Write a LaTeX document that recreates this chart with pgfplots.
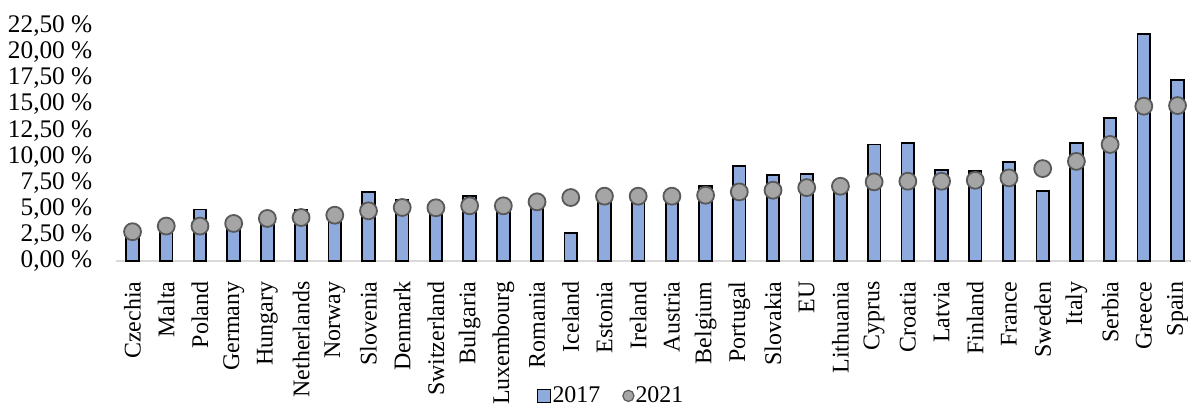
\documentclass[border=0pt]{standalone}
\usepackage{pgfplots}
\pgfplotsset{compat=1.18}
\usepackage{fontspec}
\setmainfont{Liberation Serif}
\definecolor{cbar}{HTML}{8FAADC}
\definecolor{cdot}{HTML}{A5A5A5}
\definecolor{cdotedge}{HTML}{595959}
\pgfplotsset{
  sqlegend/.style={legend image code/.code={\draw[##1, line width=0.6bp] (0bp,-3.2bp) rectangle (6.5bp,3.2bp);}},
  dotlegend/.style={legend image code/.code={\draw[mark=*, mark size=2.8bp, mark options={fill=cdot, draw=cdotedge, line width=0.6bp}] plot coordinates {(2.8bp,0bp)};}}
}
\begin{document}
\fontsize{12bp}{14bp}\selectfont
\begin{tikzpicture}
\begin{axis}[
  name=ax,
  scale only axis,
  width=539.1bp, height=131bp,
  xmin=-0.5, xmax=31.4, ymin=0, ymax=25,
  xtick={0,...,31},
  xticklabels={Czechia,Malta,Poland,Germany,Hungary,Netherlands,Norway,Slovenia,Denmark,Switzerland,Bulgaria,Luxembourg,Romania,Iceland,Estonia,Ireland,Austria,Belgium,Portugal,Slovakia,EU,Lithuania,Cyprus,Croatia,Latvia,Finland,France,Sweden,Italy,Serbia,Greece,Spain},
  ytick={0,2.5,5,7.5,10,12.5,15,17.5,20,22.5},
  yticklabels={{0,00 \%},{2,50 \%},{5,00 \%},{7,50 \%},{10,00 \%},{12,50 \%},{15,00 \%},{17,50 \%},{20,00 \%},{22,50 \%}},
  axis x line*=bottom, axis y line*=left,
  x axis line style={-, draw=gray!30, line width=1bp},
  y axis line style={draw=none},
  major tick length=0pt,
  tick style={draw=none},
  xticklabel style={rotate=90, anchor=east, inner sep=0pt},
  xticklabel shift=10bp,
  yticklabel style={anchor=east, inner sep=0pt, font=\fontsize{12.7bp}{14bp}\selectfont},
  yticklabel shift=11.5bp,
  legend style={at={(0.4605,-0.515)}, anchor=center, draw=none, fill=none,
    legend columns=2, inner sep=0pt, nodes={inner sep=0.75bp},
    /tikz/every even column/.append style={column sep=10.5bp}},
]
\addplot[ybar, bar width=6.3bp, fill=cbar, draw=black, line width=0.9bp, sqlegend]
coordinates {
(0,2.7) (1,3.3) (2,4.96) (3,3.5) (4,4.0) (5,4.96) (6,4.3) (7,6.64)
(8,5.84) (9,5.0) (10,6.26) (11,5.2) (12,5.3) (13,2.73) (14,6.0) (15,6.0)
(16,6.1) (17,7.18) (18,9.09) (19,8.23) (20,8.33) (21,7.0) (22,11.18) (23,11.31)
(24,8.77) (25,8.64) (26,9.5) (27,6.74) (28,11.31) (29,13.73) (30,21.73) (31,17.38)
};
\addlegendentry{2017}
\addplot[only marks, mark=*, mark size=4.25bp,
  mark options={fill=cdot, draw=cdotedge, line width=0.9bp}, dotlegend]
coordinates {
(0,2.83) (1,3.37) (2,3.37) (3,3.62) (4,4.1) (5,4.19) (6,4.41) (7,4.83)
(8,5.15) (9,5.12) (10,5.31) (11,5.31) (12,5.69) (13,6.1) (14,6.23) (15,6.23)
(16,6.23) (17,6.32) (18,6.64) (19,6.8) (20,7.05) (21,7.18) (22,7.6) (23,7.66)
(24,7.66) (25,7.75) (26,7.98) (27,8.87) (28,9.56) (29,11.18) (30,14.84) (31,14.9)
};
\addlegendentry{2021}
\end{axis}
\path ([xshift=-58bp]ax.south west);
\end{tikzpicture}
\end{document}
